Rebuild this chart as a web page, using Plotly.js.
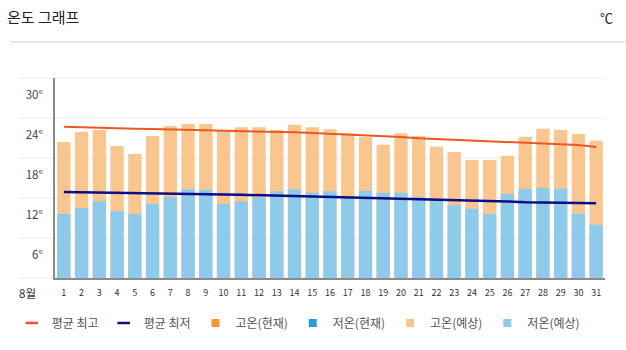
<!DOCTYPE html>
<html>
<head>
<meta charset="utf-8">
<script src="https://cdn.plot.ly/plotly-3.0.1.min.js"></script>
<style>html,body{margin:0;padding:0;background:#fff;}#chart{width:626px;height:350px;}</style>
</head>
<body>
<div id="chart"></div>
<script>
const days = ['1','2','3','4','5','6','7','8','9','10','11','12','13','14','15','16','17','18','19','20','21','22','23','24','25','26','27','28','29','30','31'];
const highForecast = [20.4,21.9,22.2,19.8,18.6,21.3,22.8,23.1,23.1,22.1,22.6,22.6,22.2,23.0,22.6,22.3,21.7,21.1,20.0,21.7,21.3,19.7,18.9,17.7,17.7,18.3,21.2,22.4,22.2,21.6,20.6];
const lowForecast = [9.6,10.5,11.5,10.0,9.6,11.1,12.1,13.3,13.2,11.1,11.5,12.1,13.0,13.3,12.8,13.0,12.1,13.1,12.8,12.8,12.1,11.7,10.9,10.4,9.6,12.6,13.4,13.5,13.4,9.6,8.0];
const avgHigh = [22.7,22.6,22.5,22.45,22.4,22.35,22.3,22.25,22.2,22.1,22.0,21.95,21.9,21.85,21.75,21.65,21.55,21.45,21.3,21.15,20.95,20.85,20.75,20.65,20.55,20.45,20.35,20.2,20.1,19.95,19.65];
const avgLow = [12.9,12.87,12.84,12.8,12.76,12.72,12.67,12.63,12.58,12.54,12.48,12.42,12.35,12.27,12.2,12.12,12.06,12.01,11.97,11.92,11.88,11.82,11.76,11.67,11.58,11.48,11.37,11.3,11.27,11.24,11.2];
const yTickVals = [6,12,18,24,30];
const yTickText = ['6°','12°','18°','24°','30°'];
const gridVals = [0,6,12,18,24,30];
const yRange = [0,30];
const legendNames = ['평균 최고','평균 최저','고온(현재)','저온(현재)','고온(예상)','저온(예상)'];
const titleText = '온도 그래프';
const unitText = '℃';
const monthText = '8월';

const FONT = '"Noto Sans CJK KR", "Noto Sans", sans-serif';
const C = {
  avgHigh: '#ec5820', avgLow: '#0c0c86',
  highNow: '#f7963b', lowNow: '#2a9bd8',
  highFc: '#f9c68f', lowFc: '#8ecbea'
};

const traces = [
  {type:'bar', x:days, y:highForecast, marker:{color:C.highFc}, showlegend:false, hoverinfo:'skip'},
  {type:'bar', x:days, y:lowForecast, marker:{color:C.lowFc}, showlegend:false, hoverinfo:'skip'},
  {type:'scatter', mode:'lines', x:days, y:avgHigh, line:{color:C.avgHigh, width:2}, showlegend:false, hoverinfo:'skip'},
  {type:'scatter', mode:'lines', x:days, y:avgLow, line:{color:C.avgLow, width:2.5}, showlegend:false, hoverinfo:'skip'}
];
const legendStyles = [
  {color:C.avgHigh, line:true},
  {color:C.avgLow, line:true},
  {color:C.highNow},
  {color:C.lowNow},
  {color:C.highFc},
  {color:C.lowFc}
];
legendNames.forEach((n,i)=>{
  const s = legendStyles[i];
  traces.push({type:'scatter', mode:'markers', x:[null], y:[null], name:n, showlegend:true,
    marker: s.line ? {symbol:'line-ew', size:9, color:s.color, line:{color:s.color, width:2.5}}
                   : {symbol:'square', size:8, color:s.color, line:{width:0}}});
});

const plotTop = 78, plotBottom = 278, plotLeft = 45, plotRight = 605;
const pw = plotRight - plotLeft, ph = plotBottom - plotTop;
const toPaperY = v => (v - yRange[0]) / (yRange[1] - yRange[0]);
const shapes = gridVals.map(v => ({type:'line', xref:'paper', yref:'paper', x0:(7-plotLeft)/pw, x1:1,
  y0:toPaperY(v), y1:toPaperY(v), line:{color:'#ebebeb', width:1}, layer:'below'}));
shapes.push({type:'line', xref:'paper', yref:'paper', x0:-plotLeft/pw, x1:(626-plotLeft)/pw,
  y0:(plotBottom-42)/ph, y1:(plotBottom-42)/ph, line:{color:'#dddddd', width:1.5}});

const layout = {
  width:626, height:350,
  margin:{l:plotLeft, r:626-plotRight, t:plotTop, b:350-plotBottom},
  paper_bgcolor:'#fff', plot_bgcolor:'rgba(0,0,0,0)',
  font:{family:FONT, color:'#444'},
  title:{text:titleText, font:{family:FONT, size:15, color:'#222'}, xref:'container', yref:'container',
    x:7/626, xanchor:'left', y:1-18/350, yanchor:'middle'},
  barmode:'overlay', bargap:0.25,
  xaxis:{type:'category', showgrid:false, zeroline:false, showline:true, linecolor:'#8a8a8a', linewidth:2,
    ticks:'', tickfont:{size:9, color:'#333', family:FONT}, ticklabelstandoff:5, fixedrange:true},
  yaxis:{range:yRange, tickvals:yTickVals, ticktext:yTickText, showgrid:false, zeroline:false,
    showline:true, linecolor:'#8a8a8a', linewidth:2, ticks:'', ticklabelshift:17, ticklabelstandoff:8,
    tickfont:{size:11.5, color:'#444', family:FONT}, fixedrange:true},
  shapes:shapes,
  annotations:[
    {text:unitText, xref:'paper', yref:'paper', x:(607-plotLeft)/pw, y:(plotBottom-17)/ph, showarrow:false,
      xanchor:'center', yanchor:'middle', font:{size:13, color:'#222', family:FONT}},
    {text:monthText, xref:'paper', yref:'paper', x:(17-plotLeft)/pw, y:(plotBottom-293)/ph, showarrow:false,
      xanchor:'center', yanchor:'middle', font:{size:11.5, color:'#333', family:FONT}}
  ],
  legend:{orientation:'h', x:(1-plotLeft)/pw, xanchor:'left', y:(plotBottom-323)/ph, yanchor:'middle',
    font:{size:12, color:'#555', family:FONT}, itemwidth:30, tracegroupgap:0, bgcolor:'rgba(0,0,0,0)'},
  showlegend:true
};
Plotly.newPlot('chart', traces, layout, {staticPlot:true, displayModeBar:false});
</script>
</body>
</html>
